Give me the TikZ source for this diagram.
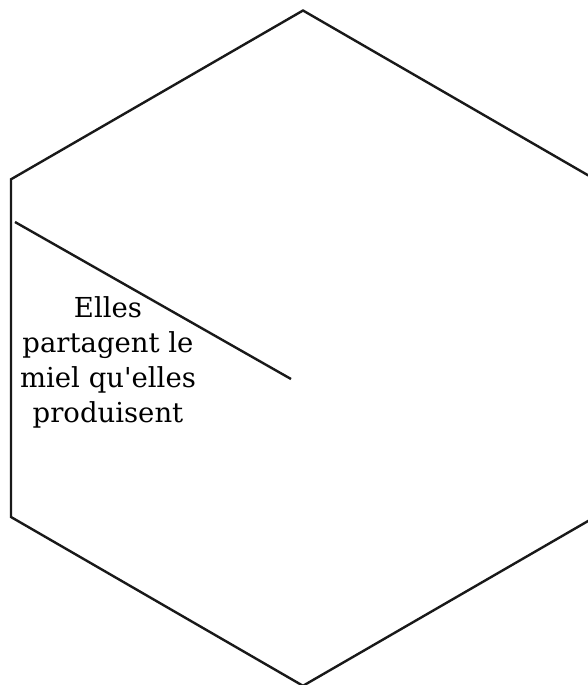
\documentclass[tikz,border=0pt]{standalone}
\usepackage{fontspec}
\setmainfont{DejaVu Serif}
\tikzset{
  edge/.style={draw=black!90, line width=2.4pt, line join=miter},
  label/.style={align=center, font=\fontsize{27.5}{35}\selectfont, inner sep=0pt}
}
\begin{document}
\begin{tikzpicture}[x=1pt,y=-1pt]
\useasboundingbox (0,0) rectangle (588,685);
\clip (0,0) rectangle (588,685);
\coordinate (t) at (303,10.5);
\coordinate (ur) at (595,179.3);
\coordinate (lr) at (595,517);
\coordinate (b) at (303,685.8);
\coordinate (ll) at (11,517);
\coordinate (ul) at (11,179.3);
\draw[edge] (t) -- (ur) -- (lr) -- (b) -- (ll) -- (ul) -- cycle;
\coordinate (s1) at (15,222);
\coordinate (s2) at (291,379);
\draw[edge] (s1) -- (s2);
\node[label] (txt) at (108,362) {Elles\\partagent le\\miel qu\textquotesingle elles\\produisent};
\end{tikzpicture}
\end{document}
